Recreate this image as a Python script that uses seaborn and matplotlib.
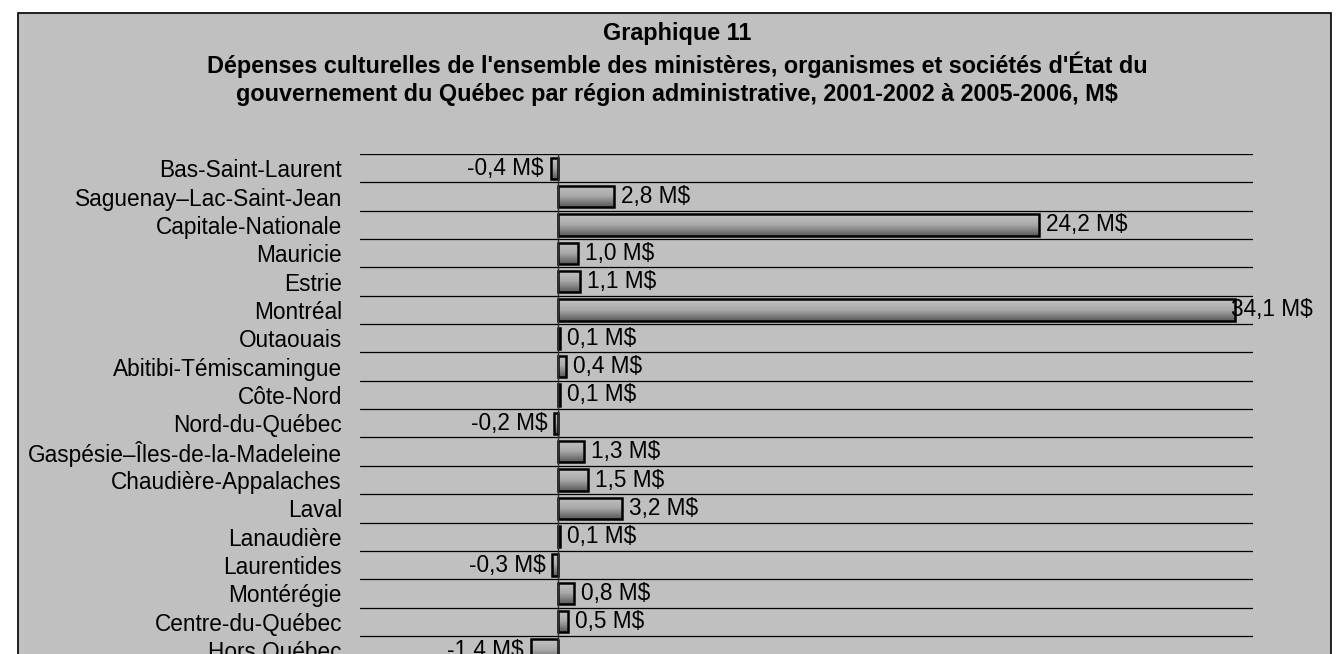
import numpy as np
import pandas as pd
import matplotlib
matplotlib.use("Agg")
import matplotlib.pyplot as plt
from matplotlib.colors import LinearSegmentedColormap
import seaborn as sns

sns.set_theme(style="white")
plt.rcParams['font.family'] = ['Liberation Sans', 'DejaVu Sans']

# données (M$)
regions = [
    "Bas-Saint-Laurent", "Saguenay–Lac-Saint-Jean", "Capitale-Nationale",
    "Mauricie", "Estrie", "Montréal", "Outaouais", "Abitibi-Témiscamingue",
    "Côte-Nord", "Nord-du-Québec", "Gaspésie–Îles-de-la-Madeleine",
    "Chaudière-Appalaches", "Laval", "Lanaudière", "Laurentides",
    "Montérégie", "Centre-du-Québec", "Hors Québec",
]
variations = [-0.4, 2.8, 24.2, 1.0, 1.1, 34.1, 0.1, 0.4, 0.1, -0.2,
              1.3, 1.5, 3.2, 0.1, -0.3, 0.8, 0.5, -1.4]

titre = ("Graphique 11\n"
         "Dépenses culturelles de l'ensemble des ministères, organismes et sociétés d'État du\n"
         "gouvernement du Québec par région administrative, 2001-2002 à 2005-2006, M$")

df = pd.DataFrame({"region": regions, "valeur": variations})

W, H = 1341, 654
FS = 16.3
fig = plt.figure(figsize=(W / 100, H / 100), dpi=100)
fig.patch.set_facecolor("white")

# panneau gris avec bordure (sous les axes)
panel = plt.Rectangle((18 / W, 1 - 700 / H), (1331 - 18) / W, (700 - 13) / H,
                      transform=fig.transFigure, facecolor="#c0c0c0",
                      edgecolor="black", linewidth=1.2, zorder=-1)
fig.patches.append(panel)

fig.text(677 / W, 1 - 22 / H, titre, ha="center", va="top", fontsize=16.8,
         fontweight="bold", linespacing=1.3, color="black")

top, bottom = 154, 664.3
ax = fig.add_axes([360 / W, 1 - bottom / H, (1253 - 360) / W, (bottom - top) / H])
ax.set_facecolor("none")

sns.barplot(data=df, y="region", x="valeur", orient="h", color="#909090",
            edgecolor="black", linewidth=1.8, width=0.75, ax=ax, zorder=3)

# dégradé vertical dans chaque barre
grad = LinearSegmentedColormap.from_list("g", ["#c4c4c4", "#a8a8a8", "#5a5a5a"])
img = np.linspace(0, 1, 64).reshape(-1, 1)
for p in list(ax.patches):
    x0, y0 = p.get_x(), p.get_y()
    w, h = p.get_width(), p.get_height()
    im = ax.imshow(img, cmap=grad, aspect="auto", zorder=2.5,
                   extent=(x0, x0 + w, y0 + h, y0), interpolation="bilinear")
    im.set_clip_path(p)
    p.set_facecolor("none")

ax.set_xlim(-10, 35)
ax.set_ylim(len(regions) - 0.5, -0.5)
ax.set_xticks([])
ax.set_yticks(range(len(regions)))
ax.set_yticklabels(regions, fontsize=FS, color="black")
ax.tick_params(axis="y", length=0, pad=13)
ax.set_xlabel("")
ax.set_ylabel("")
for s in ax.spines.values():
    s.set_visible(False)

for b in np.arange(-0.5, len(regions), 1.0):
    ax.axhline(b, color="black", linewidth=0.9, zorder=1)
ax.axvline(0, color="#303030", linewidth=1.0, zorder=4)

# étiquettes de valeurs (celle qui dépasse presque l'axe est ramenée vers la barre)
for i, v in enumerate(variations):
    txt = f"{v:.1f}".replace(".", ",") + " M$"
    if v >= 0:
        dx = -3 if v > 30 else 5
        ax.annotate(txt, (v, i), xytext=(dx, 0), textcoords="offset points",
                    ha="left", va="center", fontsize=FS, color="black", zorder=5)
    else:
        ax.annotate(txt, (v, i), xytext=(-5, 0), textcoords="offset points",
                    ha="right", va="center", fontsize=FS, color="black", zorder=5)

fig.savefig("out.png", dpi=100, facecolor="white")
